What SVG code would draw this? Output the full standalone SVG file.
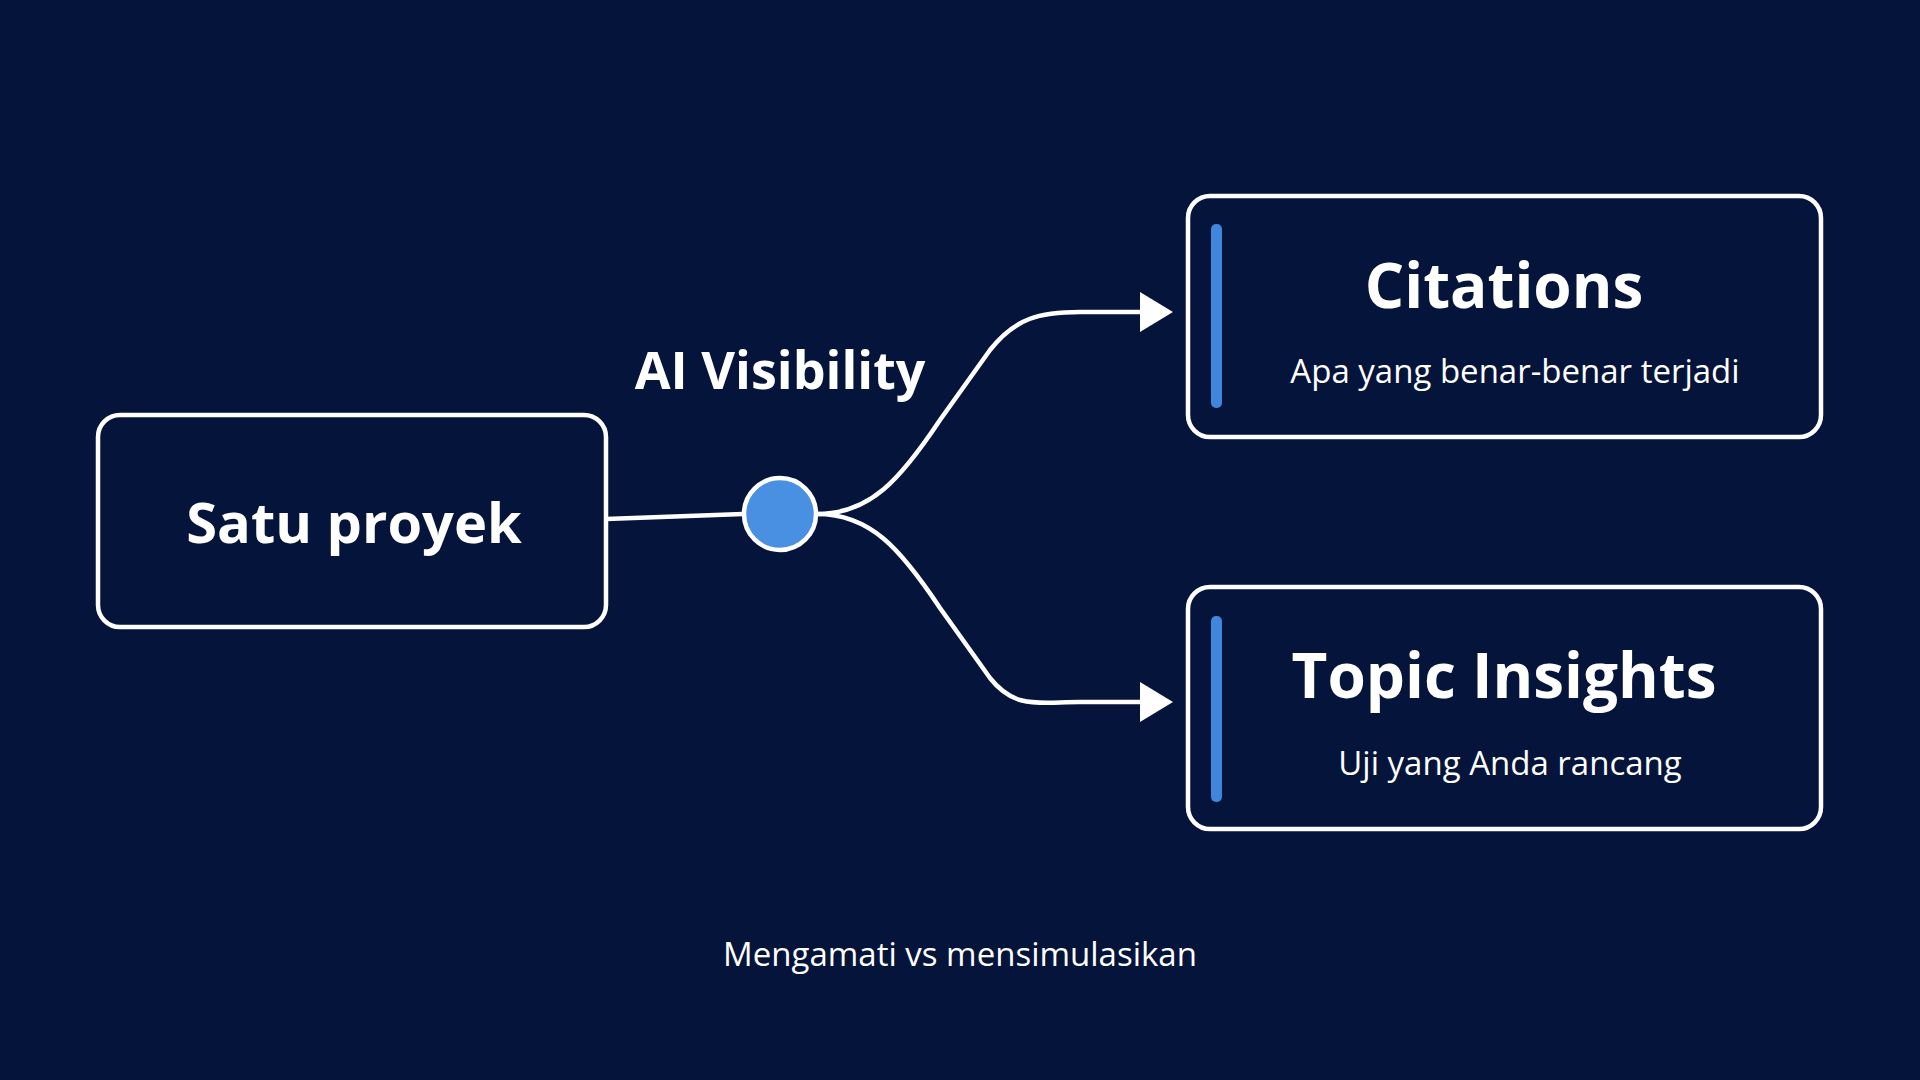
<svg xmlns="http://www.w3.org/2000/svg" width="1920" height="1080" viewBox="0 0 1920 1080">
<defs>
<style>
.box{fill:none;stroke:#ffffff;stroke-width:4.5}
.bar{fill:#3f86dc}
.t{font-family:"Open Sans","Noto Sans",sans-serif;fill:#ffffff;text-anchor:middle}
.b{font-weight:700}
.c{fill:none;stroke:#ffffff;stroke-width:4.5}
</style>
<marker id="ah" markerWidth="10" markerHeight="10" refX="8" refY="5" orient="auto" markerUnits="userSpaceOnUse" viewBox="0 0 10 10"><path d="M0,0 L10,5 L0,10 Z" fill="#fff"/></marker>
</defs>
<rect width="1920" height="1080" fill="#04143a"/>
<g id="connectors">
<path class="c" d="M606,519 L743,514"/>
<path class="c" d="M817,514 C870,514 900,480 940,420 L990,350 C1015,318 1040,312 1080,312 L1145,312"/>
<path class="c" d="M817,514 C870,514 900,548 940,608 L990,678 C1015,710 1040,702 1080,702 L1145,702"/>
<path d="M1140,292 L1173,312 L1140,332 Z" fill="#fff"/>
<path d="M1140,682 L1173,702 L1140,722 Z" fill="#fff"/>
</g>
<g id="source">
<rect class="box" x="98" y="415" width="508" height="212" rx="22"/>
<text class="t b" x="354" y="543" font-size="56">Satu proyek</text>
</g>
<g id="hub">
<circle cx="780" cy="514" r="36" fill="#4a90e2" stroke="#fff" stroke-width="4.5"/>
<text class="t b" x="780" y="389" font-size="52">AI Visibility</text>
</g>
<g id="citations">
<rect class="box" x="1188" y="196" width="633" height="241" rx="22"/>
<rect class="bar" x="1211" y="224" width="11" height="184" rx="5"/>
<text class="t b" x="1504" y="308" font-size="62">Citations</text>
<text class="t" x="1515" y="383" font-size="33">Apa yang benar-benar terjadi</text>
</g>
<g id="topic">
<rect class="box" x="1188" y="587" width="633" height="242" rx="22"/>
<rect class="bar" x="1211" y="616" width="11" height="186" rx="5"/>
<text class="t b" x="1504" y="698" font-size="62">Topic Insights</text>
<text class="t" x="1510" y="775" font-size="33">Uji yang Anda rancang</text>
</g>
<text class="t" x="960" y="966" font-size="33">Mengamati vs mensimulasikan</text>
</svg>
